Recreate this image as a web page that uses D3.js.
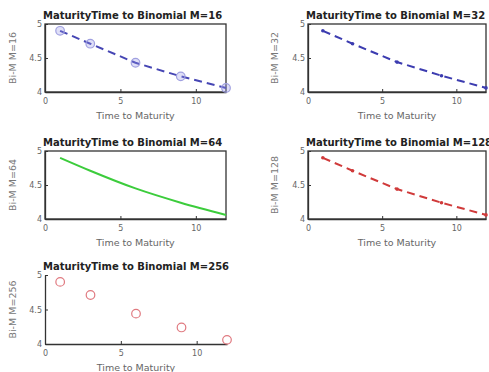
<!DOCTYPE html>
<html>
<head>
<meta charset="utf-8">
<script src="https://cdn.jsdelivr.net/npm/d3@7"></script>
<style>
  body { margin: 0; background: #fff; }
  svg { display: block; font-family: "DejaVu Sans", sans-serif; }
</style>
</head>
<body>
<div id="chart"></div>
<script>
var canvasWidth = 489;
var canvasHeight = 372;

/* data */
var timeToMaturity = [1, 3, 6, 9, 12];
var binomM16  = [4.90, 4.71, 4.43, 4.23, 4.06];
var binomM32  = [4.90, 4.71, 4.44, 4.24, 4.06];
var binomM64  = [4.90, 4.71, 4.45, 4.24, 4.06];
var binomM128 = [4.90, 4.71, 4.44, 4.24, 4.06];
var binomM256 = [4.90, 4.71, 4.44, 4.24, 4.06];
var stepsM = [16, 32, 64, 128, 256];
var xTicks = [0, 5, 10];
var yTicks = [4, 4.5, 5];

var svg = d3.select("#chart").append("svg")
    .attr("width", canvasWidth)
    .attr("height", canvasHeight);

/* one entry per subplot */
var panels = [
  {values: binomM16,  left: 45,  top: 24,  w: 181, h: 68, color: "#4646b4", dash: "8,5", marker: "circle", box: true},
  {values: binomM32,  left: 308, top: 24,  w: 178, h: 68, color: "#3c3cb0", dash: "8,5", marker: "dot", box: true},
  {values: binomM64,  left: 45,  top: 151, w: 181, h: 68, color: "#3ccc3c", dash: null, marker: null, box: true, smooth: true},
  {values: binomM128, left: 308, top: 151, w: 178, h: 68, color: "#d03a3a", dash: "8,5", marker: "dot", box: true},
  {values: binomM256, left: 45,  top: 275, w: 182, h: 69, color: "#e07a80", dash: null, marker: "open", box: false, noLine: true}
];

panels.forEach(function (p, i) {
  var g = svg.append("g").attr("transform", "translate(" + p.left + "," + p.top + ")");
  var x = d3.scaleLinear().domain([0, 12]).range([0, p.w]);
  var y = d3.scaleLinear().domain([4, 5]).range([p.h, 0]);
  var pts = timeToMaturity.map(function (t, k) { return {t: t, v: p.values[k]}; });

  /* title (clipped by the window on the right column, as in the original) */
  g.append("text")
      .attr("x", -2)
      .attr("y", -5)
      .attr("font-size", 10)
      .attr("font-weight", "bold")
      .attr("fill", "#222")
      .text("MaturityTime to Binomial M=" + stepsM[i]);

  /* axes with ticks pointing inward */
  var xAxis = g.append("g")
      .attr("transform", "translate(0," + p.h + ")")
      .call(d3.axisBottom(x).tickValues(xTicks).tickSizeInner(-3).tickSizeOuter(0).tickPadding(6));
  var yAxis = g.append("g")
      .call(d3.axisLeft(y).tickValues(yTicks).tickFormat(d3.format("")).tickSizeInner(-3).tickSizeOuter(0).tickPadding(3));
  [xAxis, yAxis].forEach(function (a) {
    a.select(".domain").attr("stroke", "#333").attr("stroke-width", 1.3);
    a.selectAll(".tick line").attr("stroke", "#333");
    a.selectAll(".tick text").attr("fill", "#666").attr("font-size", 8).attr("font-family", "DejaVu Sans, sans-serif");
  });

  if (p.box) {
    g.append("rect")
        .attr("width", p.w)
        .attr("height", p.h)
        .attr("fill", "none")
        .attr("stroke", "#333")
        .attr("stroke-width", 1.3);
  }

  /* axis labels */
  g.append("text")
      .attr("x", p.w / 2)
      .attr("y", p.h + 27)
      .attr("text-anchor", "middle")
      .attr("font-size", 9.5)
      .attr("fill", "#666")
      .text("Time to Maturity");
  g.append("text")
      .attr("transform", "rotate(-90)")
      .attr("x", -p.h / 2)
      .attr("y", -p.left + 16 + (p.left > 100 ? 262 : 0))
      .attr("text-anchor", "middle")
      .attr("font-size", 9.5)
      .attr("fill", "#777")
      .text("Bi-M M=" + stepsM[i]);

  /* series */
  if (!p.noLine) {
    g.append("path")
        .datum(pts)
        .attr("fill", "none")
        .attr("stroke", p.color)
        .attr("stroke-width", 2)
        .attr("stroke-dasharray", p.dash)
        .attr("d", d3.line()
            .curve(p.smooth ? d3.curveMonotoneX : d3.curveLinear)
            .x(function (d) { return x(d.t); })
            .y(function (d) { return y(d.v); }));
  }

  if (p.marker) {
    g.selectAll(".pt")
        .data(pts)
        .join("circle")
        .attr("cx", function (d) { return x(d.t); })
        .attr("cy", function (d) { return y(d.v); })
        .attr("r", p.marker == "dot" ? 1.8 : 4.3)
        .attr("fill", p.marker == "circle" ? "rgba(150,150,230,0.3)" : (p.marker == "dot" ? p.color : "none"))
        .attr("stroke", p.marker == "circle" ? "#a0a0e0" : (p.marker == "dot" ? "none" : p.color))
        .attr("stroke-width", 1.2);
  }
});
</script>
</body>
</html>
